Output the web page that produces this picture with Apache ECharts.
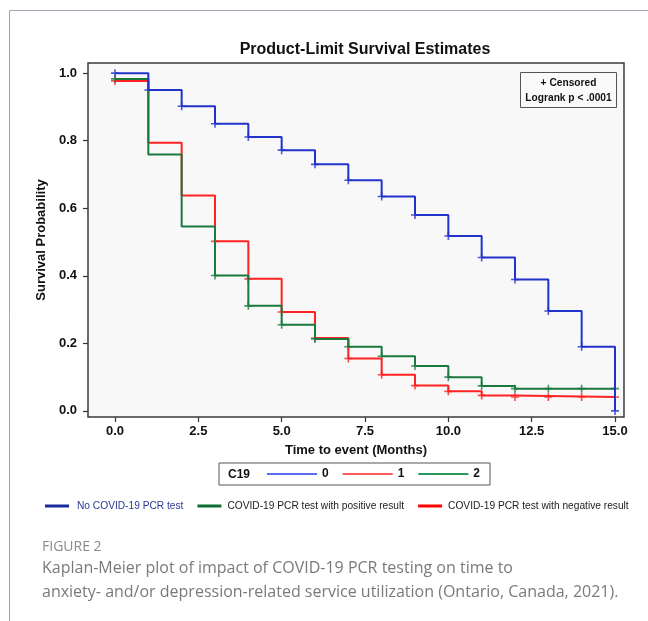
<!DOCTYPE html>
<html>
<head>
<meta charset="utf-8">
<script src="https://cdn.jsdelivr.net/npm/echarts@6/dist/echarts.min.js"></script>
<style>
  html, body { margin: 0; padding: 0; background: #fff; }
  #chart { width: 648px; height: 621px; }
</style>
</head>
<body>
<div id="chart"></div>
<script>
// step points: [month, survival]
const noTest = [[0, 1.0], [1, 0.95], [2, 0.902], [3, 0.85], [4, 0.811], [5, 0.772], [6, 0.73], [7, 0.683],
  [8, 0.635], [9, 0.58], [10, 0.518], [11, 0.454], [12, 0.389], [13, 0.296], [14, 0.19], [15, 0.0]];
const negTest = [[0, 0.977], [1, 0.794], [2, 0.638], [3, 0.502], [4, 0.391], [5, 0.293], [6, 0.216], [7, 0.155],
  [8, 0.107], [9, 0.075], [10, 0.058], [11, 0.046], [12, 0.041], [15, 0.041]];
const posTest = [[0, 0.983], [1, 0.759], [2, 0.546], [3, 0.401], [4, 0.311], [5, 0.255], [6, 0.213], [7, 0.19],
  [8, 0.162], [9, 0.133], [10, 0.1], [11, 0.074], [12, 0.066], [15, 0.066]];

// censored marks (months)
const censorNoTest = [0, 1, 2, 3, 4, 5, 6, 7, 8, 9, 10, 11, 12, 13, 14, 15];
const censorNeg = [0, 3, 4, 5, 6, 7, 8, 9, 10, 11, 12, 13, 14, 15];
const censorPos = [0, 3, 4, 5, 6, 7, 8, 9, 10, 11, 12, 13, 14, 15];

const xTicks = [0, 2.5, 5, 7.5, 10, 12.5, 15];
const yTicks = [0, 0.2, 0.4, 0.6, 0.8, 1.0];
const footNames = ['No COVID-19 PCR test', 'COVID-19 PCR test with positive result', 'COVID-19 PCR test with negative result'];

const BLUE = '#2233cc', RED = '#ff2222', GREEN = '#1a7a3e';
const FONT = '"Liberation Sans", Arial, sans-serif';

// survival value at time t from a step list
const valueAt = (steps, t) => {
  let v = steps[0][1];
  steps.forEach(p => { if (p[0] <= t) v = p[1]; });
  return v;
};
const marks = (steps, times) => times.map(t => [t, valueAt(steps, t)]);

const plusSymbol = 'path://M3.6,0h1.8v9h-1.8z M0,3.6h9v1.8h-9z';

const stepSeries = (name, data, color) => ({
  name: name, type: 'line', step: 'end', data: data, color: color,
  showSymbol: false, lineStyle: { width: 2, color: color }, silent: true
});
const censorSeries = (name, data, color) => ({
  name: name, type: 'scatter', data: data, symbol: plusSymbol, symbolSize: 8,
  itemStyle: { color: color }, silent: true
});

const chart = echarts.init(document.getElementById('chart'));
chart.setOption({
  animation: false,
  backgroundColor: '#fff',
  title: {
    text: 'Product-Limit Survival Estimates',
    left: 360, top: 37, textAlign: 'center',
    textStyle: { fontFamily: FONT, fontSize: 16, fontWeight: 'bold', color: '#111' }
  },
  grid: {
    left: 88, right: 24, top: 63, height: 354, show: true,
    backgroundColor: '#f8f8f8', borderColor: '#3a3a3a', borderWidth: 1.5
  },
  xAxis: {
    type: 'value', min: -0.81, max: 15.27,
    name: 'Time to event (Months)', nameLocation: 'middle', nameGap: 27,
    nameTextStyle: { fontFamily: FONT, fontSize: 13, fontWeight: 'bold', color: '#111' },
    axisLine: { show: false, onZero: false },
    splitLine: { show: false },
    axisTick: { show: true, length: 5, customValues: xTicks, lineStyle: { color: '#333', width: 1.2 } },
    axisLabel: {
      customValues: xTicks, margin: 8, formatter: v => v.toFixed(1),
      fontFamily: FONT, fontSize: 13, fontWeight: 'bold', color: '#111'
    }
  },
  yAxis: {
    type: 'value', min: -0.018, max: 1.03,
    name: 'Survival Probability', nameLocation: 'middle', nameGap: 40,
    nameTextStyle: { fontFamily: FONT, fontSize: 13, fontWeight: 'bold', color: '#111' },
    axisLine: { show: false, onZero: false },
    splitLine: { show: false },
    axisTick: { show: true, length: 5, customValues: yTicks, lineStyle: { color: '#333', width: 1.2 } },
    axisLabel: {
      customValues: yTicks, margin: 11, formatter: v => v.toFixed(1),
      fontFamily: FONT, fontSize: 13, fontWeight: 'bold', color: '#111'
    }
  },
  legend: [
    {
      data: [
        { name: '0', itemStyle: { color: '#5a6cf0' } },
        { name: '1', itemStyle: { color: '#ff5a5a' } },
        { name: '2', itemStyle: { color: '#2a9a5c' } }
      ],
      left: 219, top: 463, padding: [5, 10, 5, 48],
      icon: 'rect', itemWidth: 50, itemHeight: 2, itemGap: 14,
      backgroundColor: '#fff', borderColor: '#555', borderWidth: 1,
      selectedMode: false,
      textStyle: { fontFamily: FONT, fontSize: 12, fontWeight: 'bold', color: '#111' }
    },
    {
      data: [
        { name: footNames[0], itemStyle: { color: '#1a2a9c' }, textStyle: { color: '#2a3a9a', padding: [0, 0, 0, 3] } },
        { name: footNames[1], itemStyle: { color: '#0c6e30' } },
        { name: footNames[2], itemStyle: { color: '#ff0000' } }
      ],
      left: 40, top: 501, width: 608, padding: [0, 0, 0, 5],
      icon: 'rect', itemWidth: 24, itemHeight: 3, itemGap: 14,
      selectedMode: false,
      textStyle: { fontFamily: FONT, fontSize: 10.2, color: '#222', padding: [0, 0, 0, 1] }
    }
  ],
  graphic: [
    { type: 'line', shape: { x1: 9.5, y1: 10.5, x2: 648, y2: 10.5 }, style: { stroke: '#a3a3b3', lineWidth: 1 } },
    { type: 'line', shape: { x1: 9.5, y1: 10.5, x2: 9.5, y2: 621 }, style: { stroke: '#a3a3b3', lineWidth: 1 } },
    { type: 'rect', shape: { x: 520.5, y: 72.5, width: 96, height: 35 }, style: { fill: '#fafafa', stroke: '#555', lineWidth: 1 }, z: 10 },
    { type: 'text', x: 568.5, y: 83, z: 11, style: { text: '+ Censored', align: 'center', verticalAlign: 'middle', font: 'bold 10.2px ' + FONT, fill: '#111' } },
    { type: 'text', x: 568.5, y: 98, z: 11, style: { text: 'Logrank p < .0001', align: 'center', verticalAlign: 'middle', font: 'bold 10.2px ' + FONT, fill: '#111' } },
    { type: 'text', x: 228, y: 475, z: 20, style: { text: 'C19', verticalAlign: 'middle', font: 'bold 12px ' + FONT, fill: '#111' } },
    { type: 'text', x: 42, y: 547, style: { text: 'FIGURE 2', verticalAlign: 'middle', font: '14px "Open Sans", sans-serif', fill: '#8a8a8a' } },
    { type: 'text', x: 42, y: 568, style: { text: 'Kaplan-Meier plot of impact of COVID-19 PCR testing on time to', verticalAlign: 'middle', font: '16px "Open Sans", sans-serif', fill: '#7a7a7a' } },
    { type: 'text', x: 42, y: 592, style: { text: 'anxiety- and/or depression-related service utilization (Ontario, Canada, 2021).', verticalAlign: 'middle', font: '16px "Open Sans", sans-serif', fill: '#7a7a7a' } }
  ],
  series: [
    stepSeries('1', negTest, RED),
    stepSeries('2', posTest, GREEN),
    stepSeries('0', noTest, BLUE),
    censorSeries('1', marks(negTest, censorNeg), RED),
    censorSeries('2', marks(posTest, censorPos), GREEN),
    censorSeries('0', marks(noTest, censorNoTest), BLUE),
    { name: footNames[0], type: 'line', data: [], color: '#1a2a9c' },
    { name: footNames[1], type: 'line', data: [], color: '#0c6e30' },
    { name: footNames[2], type: 'line', data: [], color: '#ff0000' }
  ]
});
</script>
</body>
</html>
